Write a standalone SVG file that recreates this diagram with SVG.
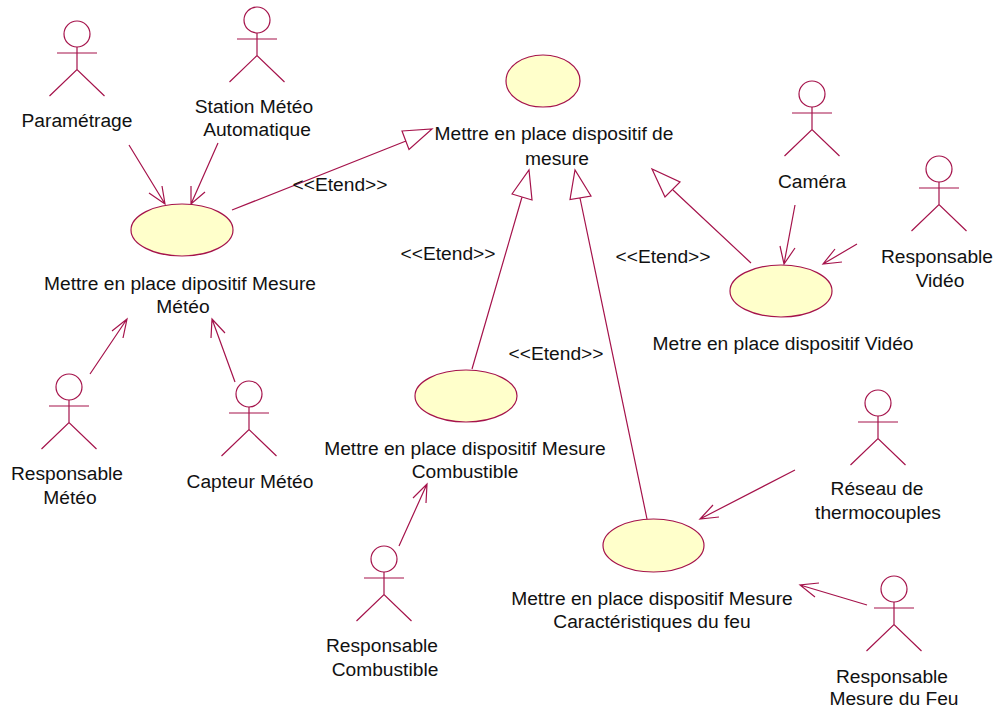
<svg xmlns="http://www.w3.org/2000/svg" width="994" height="708" viewBox="0 0 994 708">
<style>
.l{fill:none;stroke:#a5134b;stroke-width:1.2}
.e{fill:#ffffcb;stroke:#a5134b;stroke-width:1.2}
text{font-family:"Liberation Sans",Arial,sans-serif;font-size:19.2px;fill:#111;text-anchor:middle}
</style>
<defs>
<g id="actor"><circle class="l" cx="0" cy="0" r="13"/><path class="l" d="M0 13V35.500M-20 19H20M-27.500 62L0 35.500L27.500 62"/></g>
</defs>
<rect width="994" height="708" fill="#fff"/>
<g id="connectors">
<path class="l" d="M129 145L165 204M149 193L165 204L162 186"/>
<path class="l" d="M218 143L191 204M191 186L191 204L205 192"/>
<path class="l" d="M232 210L406 141M402 131L432 129L409 149.500Z"/>
<path class="l" d="M472 369L522 197M512 194L529 170L532 200Z"/>
<path class="l" d="M647 519L580 198M570 199.500L575 170L591 196Z"/>
<path class="l" d="M751 263L673 190M665 197L652 169L680 182Z"/>
<path class="l" d="M795 205L784 264M780 246L784 264L795 248"/>
<path class="l" d="M857 244L823 264M835 249L823 264L842 262"/>
<path class="l" d="M90 374L127 319M112 331L127 319L123 338"/>
<path class="l" d="M235 382L212 319M211 338L212 319L225 333"/>
<path class="l" d="M399 546L427 484M413 498L427 484L426 503"/>
<path class="l" d="M795 470L700 519M713 505L700 519L719 517"/>
<path class="l" d="M867 605L800 585M819 583L800 585L815 597"/>
</g>
<g id="uc-mesure"><ellipse class="e" cx="543" cy="81" rx="37" ry="26"/><text x="554" y="140">Mettre en place dispositif de</text><text x="557" y="165">mesure</text></g>
<g id="uc-meteo"><ellipse class="e" cx="182" cy="230" rx="51" ry="26"/><text x="180" y="290">Mettre en place dipositif Mesure</text><text x="183" y="313">Météo</text></g>
<g id="uc-video"><ellipse class="e" cx="781" cy="291" rx="51" ry="26"/><text x="783" y="350">Metre en place dispositif Vidéo</text></g>
<g id="uc-combustible"><ellipse class="e" cx="466" cy="396" rx="51" ry="26"/><text x="465" y="455">Mettre en place dispositif Mesure</text><text x="465" y="478">Combustible</text></g>
<g id="uc-feu"><ellipse class="e" cx="653.500" cy="545.500" rx="50.500" ry="26.500"/><text x="652" y="605">Mettre en place dispositif Mesure</text><text x="652" y="628">Caractéristiques du feu</text></g>
<g id="a-param"><use href="#actor" x="77" y="34"/><text x="77" y="127">Paramétrage</text></g>
<g id="a-station"><use href="#actor" x="257" y="20"/><text x="254" y="113">Station Météo</text><text x="257" y="136">Automatique</text></g>
<g id="a-camera"><use href="#actor" x="812" y="94"/><text x="812" y="188">Caméra</text></g>
<g id="a-rvideo"><use href="#actor" x="939" y="169"/><text x="937" y="263">Responsable</text><text x="940" y="287">Vidéo</text></g>
<g id="a-rmeteo"><use href="#actor" x="69" y="387"/><text x="67" y="480">Responsable</text><text x="70" y="504">Météo</text></g>
<g id="a-capteur"><use href="#actor" x="249" y="394"/><text x="250" y="488">Capteur Météo</text></g>
<g id="a-rcomb"><use href="#actor" x="384" y="559"/><text x="382" y="652">Responsable</text><text x="385" y="676">Combustible</text></g>
<g id="a-reseau"><use href="#actor" x="878" y="403"/><text x="877" y="495">Réseau de</text><text x="878" y="519">thermocouples</text></g>
<g id="a-rfeu"><use href="#actor" x="894" y="589"/><text x="892" y="683">Responsable</text><text x="894" y="705">Mesure du Feu</text></g>
<g id="labels"><text x="340" y="191">&lt;&lt;Etend&gt;&gt;</text><text x="448" y="260">&lt;&lt;Etend&gt;&gt;</text><text x="663" y="263">&lt;&lt;Etend&gt;&gt;</text><text x="556" y="360">&lt;&lt;Etend&gt;&gt;</text></g>
</svg>
